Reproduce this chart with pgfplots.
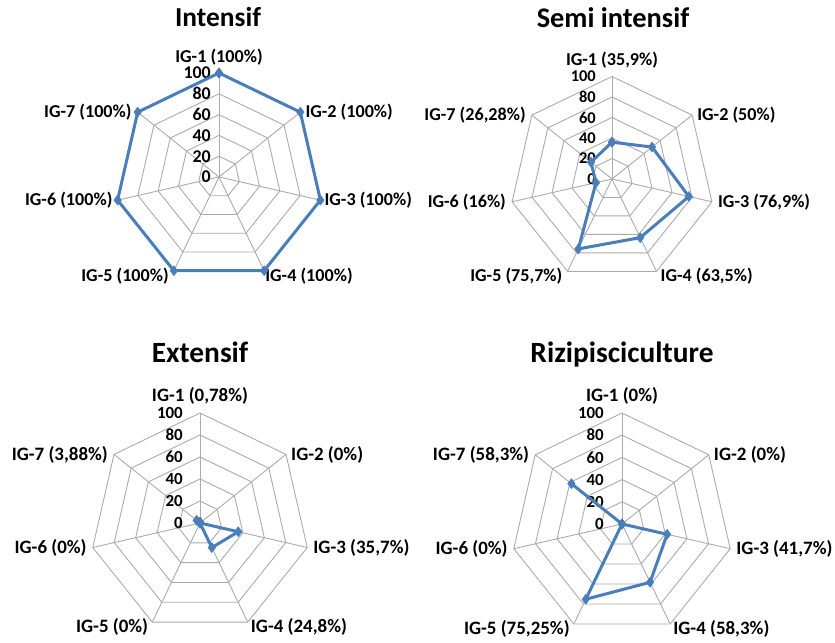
\documentclass[border=0pt]{standalone}
\usepackage{fontspec}
\setmainfont{Carlito}
\usepackage{pgfplots}
\pgfplotsset{compat=1.18}
\usepgfplotslibrary{polar}

\definecolor{serie}{HTML}{4A7EBB}
\definecolor{grille}{HTML}{ABABAB}

% angles of IG-1 ... IG-7 (clockwise from top)
\def\aA{90}
\def\aB{38.5714}
\def\aC{347.1429}
\def\aD{295.7143}
\def\aE{244.2857}
\def\aF{192.8571}
\def\aG{141.4286}

% #1 cx, #2 cy (bp, from bottom), #3 radius, #4 label size, #5 tick size, #6 tick gap,
% #7 data plot, #8 #9 first two labels, the rest in \labelsrest
\newcommand\radar[9]{%
\tikzset{
  grid line/.style={grille, line width=0.9bp},
  lab/.style={font=\fontsize{#4}{#4}\selectfont\bfseries, inner sep=1bp},
  tck/.style={font=\fontsize{#5}{#5}\selectfont\bfseries, inner sep=0bp, anchor=east, xshift=-#6bp},
}%
\begin{polaraxis}[
  at={(#1bp,#2bp)}, anchor=center,
  hide axis, scale only axis,
  width=#3bp*2, height=#3bp*2,
  xmin=0, xmax=360, ymin=0, ymax=100,
  clip=false,
]
\pgfplotsinvokeforeach{20,40,60,80,100}{
  \addplot[grid line] coordinates {(\aA,##1) (\aB,##1) (\aC,##1) (\aD,##1) (\aE,##1) (\aF,##1) (\aG,##1) (\aA,##1)};
}
\pgfplotsinvokeforeach{\aA,\aB,\aC,\aD,\aE,\aF,\aG}{
  \addplot[grid line] coordinates {(##1,0) (##1,100)};
}
\pgfplotsinvokeforeach{0,20,40,60,80,100}{
  \node[tck] at (axis cs:\aA,##1) {##1};
}
#7
\node[lab, anchor=south, yshift=7bp] at (axis cs:\aA,100) {#8};
\node[lab, anchor=west, xshift=4bp] at (axis cs:\aB,100) {#9};
\labelsrest
\end{polaraxis}}

\tikzset{serie line/.style={serie, line width=3bp, line join=round, mark=diamond*, mark size=5bp, mark options={fill=serie, line width=0.5bp}}}

\begin{document}
\begin{tikzpicture}
\useasboundingbox (0,0) rectangle (835bp,643bp);

% ---------- Intensif
\node[font=\fontsize{27.5}{27.5}\selectfont\bfseries, anchor=base] at (218bp,616bp) {Intensif};
\def\labelsrest{%
\node[lab, anchor=west, xshift=3bp] at (axis cs:\aC,100) {IG-3 (100\%)};
\node[lab, anchor=west, yshift=-5bp] at (axis cs:\aD,100) {IG-4 (100\%)};
\node[lab, anchor=east, yshift=-5bp, xshift=-4bp] at (axis cs:\aE,100) {IG-5 (100\%)};
\node[lab, anchor=east, xshift=-4bp] at (axis cs:\aF,100) {IG-6 (100\%)};
\node[lab, anchor=east, xshift=-5bp] at (axis cs:\aG,100) {IG-7 (100\%)};}
\radar{219}{466}{104}{18.2}{18}{8}{%
\addplot[serie line]
  coordinates {(\aA,100) (\aB,100) (\aC,100) (\aD,100) (\aE,100) (\aF,100) (\aG,100) (\aA,100)};
}{IG-1 (100\%)}{IG-2 (100\%)}

% ---------- Semi intensif
\node[font=\fontsize{28.5}{28.5}\selectfont\bfseries, anchor=base] at (613bp,615bp) {Semi intensif};
\def\labelsrest{%
\node[lab, anchor=west, xshift=5bp] at (axis cs:\aC,100) {IG-3 (76,9\%)};
\node[lab, anchor=west, yshift=-5bp, xshift=3bp] at (axis cs:\aD,100) {IG-4 (63,5\%)};
\node[lab, anchor=east, yshift=-5bp, xshift=-4bp] at (axis cs:\aE,100) {IG-5 (75,7\%)};
\node[lab, anchor=east, xshift=-5bp] at (axis cs:\aF,100) {IG-6 (16\%)};
\node[lab, anchor=east, xshift=-5bp] at (axis cs:\aG,100) {IG-7 (26,28\%)};}
\radar{612}{464}{102.5}{18.2}{16.5}{16}{%
\addplot[serie line]
  coordinates {(\aA,35.9) (\aB,50) (\aC,76.9) (\aD,63.5) (\aE,75.7) (\aF,16) (\aG,26.28) (\aA,35.9)};
}{IG-1 (35,9\%)}{IG-2 (50\%)}

% ---------- Extensif
\node[font=\fontsize{29.5}{29.5}\selectfont\bfseries, anchor=base] at (200bp,280bp) {Extensif};
\def\labelsrest{%
\node[lab, anchor=west, xshift=5bp] at (axis cs:\aC,100) {IG-3 (35,7\%)};
\node[lab, anchor=west, yshift=-5bp, xshift=2bp] at (axis cs:\aD,100) {IG-4 (24,8\%)};
\node[lab, anchor=east, yshift=-5bp, xshift=-3bp] at (axis cs:\aE,100) {IG-5 (0\%)};
\node[lab, anchor=east, xshift=-5bp] at (axis cs:\aF,100) {IG-6 (0\%)};
\node[lab, anchor=east, xshift=-5bp] at (axis cs:\aG,100) {IG-7 (3,88\%)};}
\radar{200}{120}{110}{19}{17}{17}{%
\addplot[serie line]
  coordinates {(\aA,0.78) (\aB,0) (\aC,35.7) (\aD,24.8) (\aE,0) (\aF,0) (\aG,3.88) (\aA,0.78)};
}{IG-1 (0,78\%)}{IG-2 (0\%)}

% ---------- Rizipisciculture
\node[font=\fontsize{29.5}{29.5}\selectfont\bfseries, anchor=base] at (622bp,280bp) {Rizipisciculture};
\def\labelsrest{%
\node[lab, anchor=west, xshift=5bp] at (axis cs:\aC,100) {IG-3 (41,7\%)};
\node[lab, anchor=west, yshift=-5bp, xshift=2bp] at (axis cs:\aD,100) {IG-4 (58,3\%)};
\node[lab, anchor=east, yshift=-5bp, xshift=-3bp] at (axis cs:\aE,100) {IG-5 (75,25\%)};
\node[lab, anchor=east, xshift=-5bp] at (axis cs:\aF,100) {IG-6 (0\%)};
\node[lab, anchor=east, xshift=-5bp] at (axis cs:\aG,100) {IG-7 (58,3\%)};}
\radar{622}{119}{111}{19}{17}{18}{%
\addplot[serie line]
  coordinates {(\aA,0) (\aB,0) (\aC,41.7) (\aD,58.3) (\aE,75.25) (\aF,0) (\aG,58.3) (\aA,0)};
}{IG-1 (0\%)}{IG-2 (0\%)}

\end{tikzpicture}
\end{document}
